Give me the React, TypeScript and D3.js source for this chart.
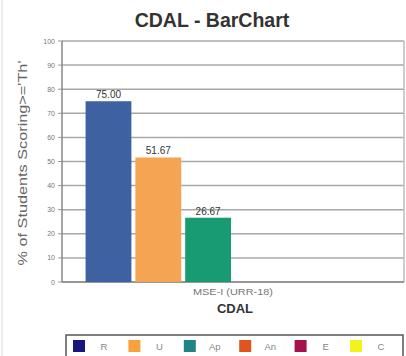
import React from "react";
import * as d3 from "d3";

const categories = ["MSE-I (URR-18)"];
const seriesNames = ["R", "U", "Ap", "An", "E", "C"];
const seriesValues = [75.0, 51.67, 26.67, 0, 0, 0];
const barColors = ["#3e61a1", "#f4a452", "#189a72", "#e0572a", "#a3184f", "#eeee22"];
const legendColors = ["#16167e", "#f7a23c", "#1f8585", "#e2541e", "#a5124e", "#f2f21e"];
const yTicks = [0, 10, 20, 30, 40, 50, 60, 70, 80, 90, 100];

export default function App() {
  const W = 406, H = 356;
  const left = 62, right = 404, top = 41, bottom = 282;
  const y = d3.scaleLinear().domain([0, 100]).range([bottom, top]);
  const x0 = d3.scaleBand().domain(categories).range([left, right]).paddingInner(0).paddingOuter(0.08);
  const x1 = d3.scaleBand().domain(seriesNames).range([0, x0.bandwidth()]).paddingInner(0.08);
  const font = "Liberation Sans, Arial, sans-serif";
  const legendX = d3.scaleLinear().domain([0, 5]).range([73, 350]);

  return (
    <svg width={W} height={H} style={{ position: "absolute", left: 0, top: 0, background: "#fff" }} fontFamily={font}>
      <line x1={2} x2={2} y1={0} y2={H} stroke="#ddd" strokeWidth={1} />
      <text x={212} y={27} textAnchor="middle" fontSize={19.5} fontWeight="bold" fill="#333">CDAL - BarChart</text>
      {yTicks.map((t) => (
        <g key={t}>
          <line x1={left} x2={right} y1={y(t)} y2={y(t)} stroke="#a8a8a8" strokeWidth={1.5} />
          <line x1={left - 4} x2={left} y1={y(t)} y2={y(t)} stroke="#999" strokeWidth={1} />
          <text x={left - 7} y={y(t) + 2.5} textAnchor="end" fontSize={7} fill="#777">{t}</text>
        </g>
      ))}
      <line x1={right} x2={right} y1={top} y2={bottom} stroke="#bbb" strokeWidth={1.5} />
      <line x1={left} x2={left} y1={top} y2={bottom} stroke="#888" strokeWidth={1.5} />
      <line x1={left} x2={right} y1={bottom} y2={bottom} stroke="#888" strokeWidth={1.5} />
      {categories.map((c) => (
        <g key={c} transform={`translate(${x0(c)},0)`}>
          {seriesNames.map((s, i) => {
            const v = seriesValues[i];
            if (!v) return null;
            const bx = x1(s)!;
            return (
              <g key={s}>
                <rect x={bx} y={y(v)} width={x1.bandwidth()} height={bottom - y(v)} fill={barColors[i]} />
                <text x={bx + x1.bandwidth() / 2} y={y(v) - 3} textAnchor="middle" fontSize={10} fill="#333">{v.toFixed(2)}</text>
              </g>
            );
          })}
          <text x={x0.bandwidth() / 2} y={295} textAnchor="middle" fontSize={9} textLength={80} lengthAdjust="spacingAndGlyphs" fill="#777">{c}</text>
        </g>
      ))}
      <text x={235} y={313} textAnchor="middle" fontSize={13} fontWeight="bold" fill="#333">CDAL</text>
      <text transform={`translate(27,${163}) rotate(-90)`} textAnchor="middle" fontSize={13} textLength={205} lengthAdjust="spacingAndGlyphs" fill="#666">% of Students Scoring&gt;='Th'</text>
      <rect x={66} y={335} width={337} height={24} fill="#fff" stroke="#555" strokeWidth={1.5} />
      {seriesNames.map((s, i) => (
        <g key={s}>
          <rect x={legendX(i)} y={340} width={12} height={12} fill={legendColors[i]} />
          <text x={legendX(i) + 31} y={350} textAnchor="middle" fontSize={9.5} fill="#888">{s}</text>
        </g>
      ))}
    </svg>
  );
}
